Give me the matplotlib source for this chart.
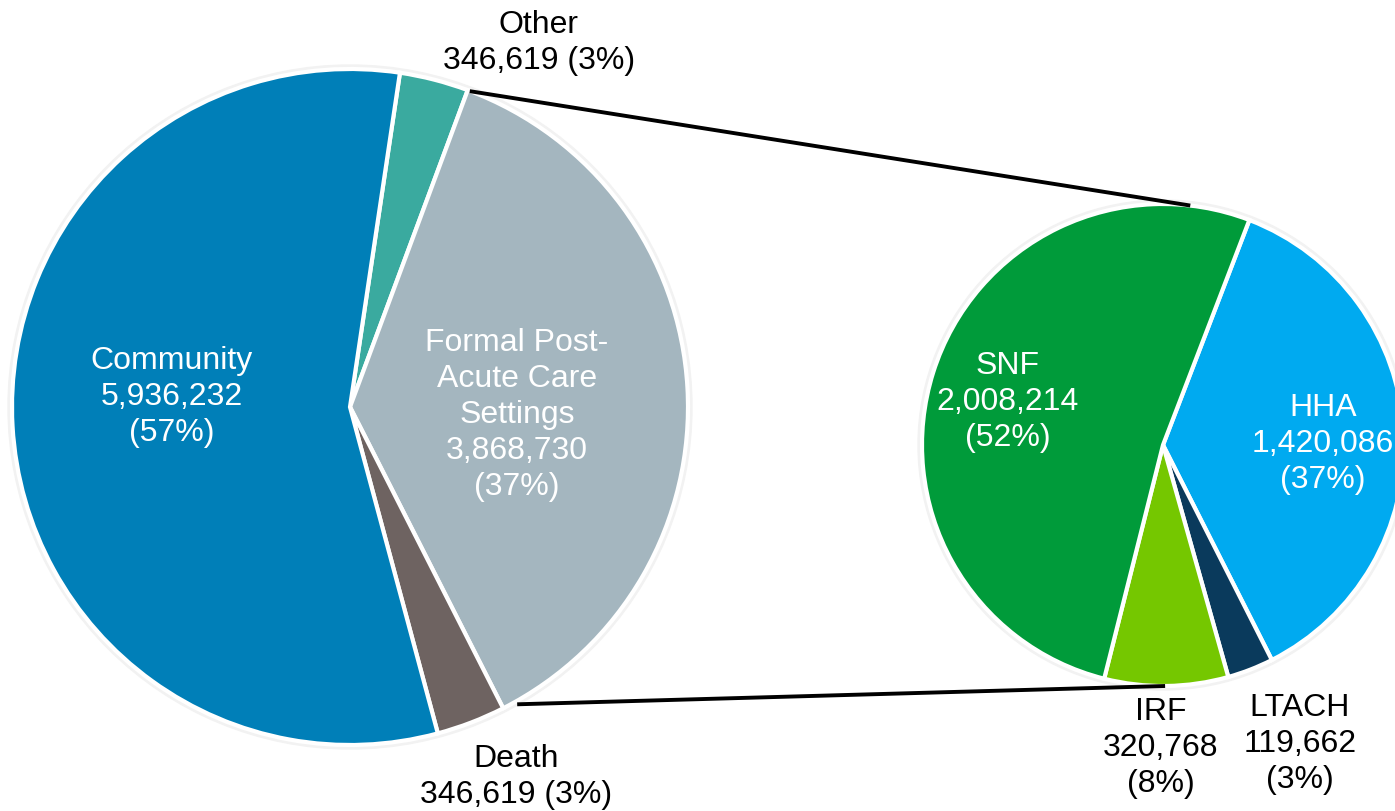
import numpy as np
import matplotlib
matplotlib.use("Agg")
import matplotlib.pyplot as plt
from matplotlib.patches import Circle

plt.rcParams['font.family'] = ['Liberation Sans', 'DejaVu Sans']

# ---- data ----
main_labels = ["Other", "Formal Post-\nAcute Care\nSettings", "Death", "Community"]
main_values = [346619, 3868730, 346619, 5936232]
main_pcts = ["3%", "37%", "3%", "57%"]
main_colors = ["#3AAA9F", "#A4B6BF", "#6E6361", "#007FB8"]

sub_labels = ["HHA", "LTACH", "IRF", "SNF"]
sub_values = [1420086, 119662, 320768, 2008214]
sub_pcts = ["37%", "3%", "8%", "52%"]
sub_colors = ["#00AAF0", "#0A3A5C", "#75C700", "#009B3A"]

W, H = 1395, 811
fig = plt.figure(figsize=(W / 100, H / 100), dpi=100)
ax = fig.add_axes([0, 0, 1, 1])
ax.set_xlim(0, W)
ax.set_ylim(0, H)
ax.set_aspect('equal')
ax.axis('off')

def Y(yp):
    return H - yp

c1 = (350, Y(407)); r1 = 338
c2 = (1163, Y(445)); r2 = 241
start1 = 81.5
start2 = 69

for c, r in [(c1, r1), (c2, r2)]:
    ax.add_patch(Circle(c, r + 4, color="#F2F2F2", zorder=0))

wedge_kw = dict(edgecolor="white", linewidth=3, joinstyle="miter")
ax.pie(main_values, colors=main_colors, startangle=start1, counterclock=False,
       center=c1, radius=r1, wedgeprops=wedge_kw, frame=True)
ax.pie(sub_values, colors=sub_colors, startangle=start2, counterclock=False,
       center=c2, radius=r2, wedgeprops=wedge_kw, frame=True)
ax.set_xlim(0, W)
ax.set_ylim(0, H)
ax.axis('off')

# connector lines (from edges of the Formal slice to top/bottom of sub pie)
tot = sum(main_values)
a_top = np.deg2rad(start1 - 360 * main_values[0] / tot)
a_bot = np.deg2rad(start1 - 360 * (main_values[0] + main_values[1]) / tot)
p_top = (c1[0] + r1 * np.cos(a_top), c1[1] + r1 * np.sin(a_top))
p_bot = (c1[0] + r1 * np.cos(a_bot), c1[1] + r1 * np.sin(a_bot))
q_top = (c2[0] + r2 * np.cos(np.deg2rad(83.5)), c2[1] + r2 * np.sin(np.deg2rad(83.5)))
q_bot = (c2[0] + r2 * np.cos(np.deg2rad(-89.5)), c2[1] + r2 * np.sin(np.deg2rad(-89.5)))
ax.plot([p_top[0] + 2, q_top[0]], [p_top[1] - 1, q_top[1]], color="black", lw=2.8,
        solid_capstyle="butt", zorder=5)
ax.plot([p_bot[0] + 14, q_bot[0]], [p_bot[1] + 4, q_bot[1]], color="black", lw=2.8,
        solid_capstyle="butt", zorder=5)

fs = 23
ls = 1.27

def fmt(v):
    return f"{v:,}"

# main pie labels
ax.text(539, Y(43), f"{main_labels[0]}\n{fmt(main_values[0])} ({main_pcts[0]})",
        ha="center", va="center", fontsize=fs, color="black", linespacing=ls)
ax.text(517, Y(415), f"{main_labels[1]}\n{fmt(main_values[1])}\n({main_pcts[1]})",
        ha="center", va="center", fontsize=fs, color="white", linespacing=ls)
ax.text(516, Y(777), f"{main_labels[2]}\n{fmt(main_values[2])} ({main_pcts[2]})",
        ha="center", va="center", fontsize=fs, color="black", linespacing=ls)
ax.text(172, Y(397), f"{main_labels[3]}\n{fmt(main_values[3])}\n({main_pcts[3]})",
        ha="center", va="center", fontsize=fs, color="white", linespacing=ls)

# sub pie labels
ax.text(1323, Y(444), f"{sub_labels[0]}\n{fmt(sub_values[0])}\n({sub_pcts[0]})",
        ha="center", va="center", fontsize=fs, color="white", linespacing=ls)
ax.text(1300, Y(744), f"{sub_labels[1]}\n{fmt(sub_values[1])}\n({sub_pcts[1]})",
        ha="center", va="center", fontsize=fs, color="black", linespacing=ls)
ax.text(1161, Y(748), f"{sub_labels[2]}\n{fmt(sub_values[2])}\n({sub_pcts[2]})",
        ha="center", va="center", fontsize=fs, color="black", linespacing=ls)
ax.text(1008, Y(402), f"{sub_labels[3]}\n{fmt(sub_values[3])}\n({sub_pcts[3]})",
        ha="center", va="center", fontsize=fs, color="white", linespacing=ls)

fig.savefig("out.png", dpi=100)
